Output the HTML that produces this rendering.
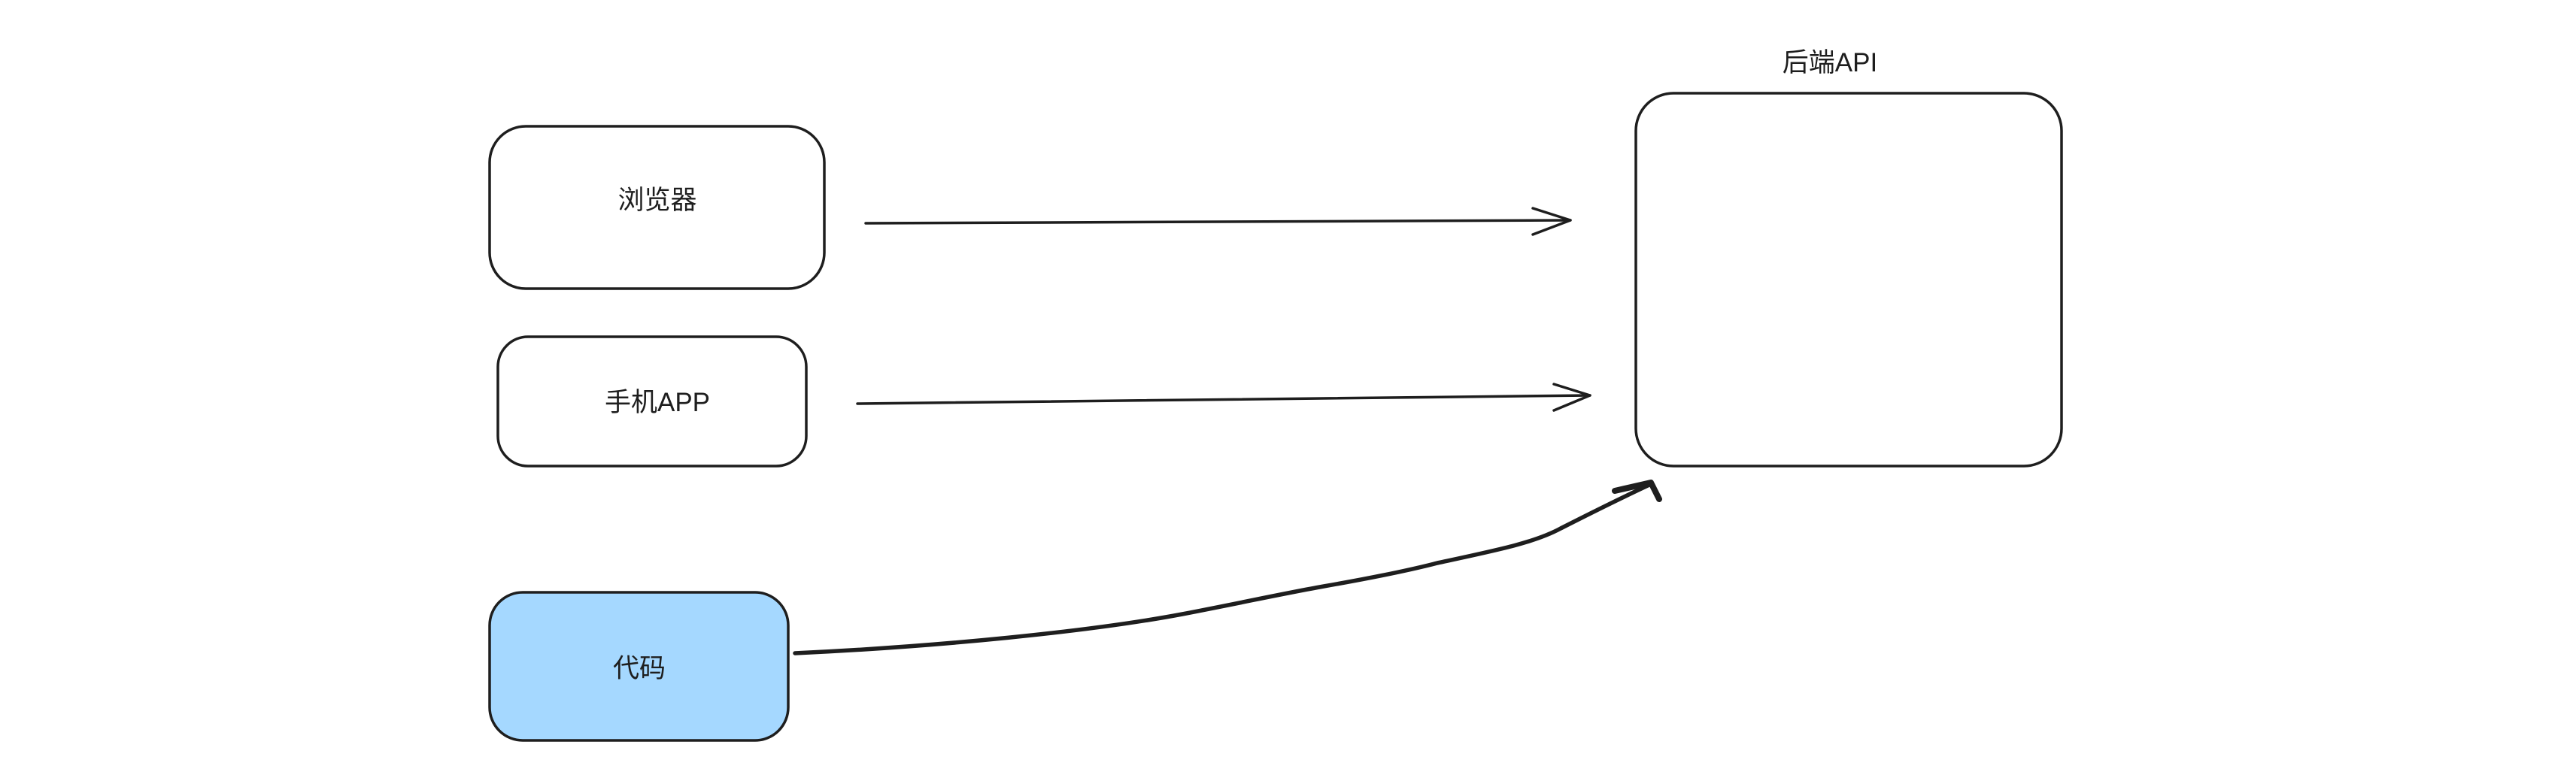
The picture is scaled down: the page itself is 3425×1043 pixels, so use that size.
<!DOCTYPE html>
<html><head><meta charset="utf-8"><style>
html,body{margin:0;padding:0;background:#fff;}
svg{display:block;}
text{font-family:"Liberation Sans","Noto Sans CJK SC",sans-serif;fill:#1e1e1e;}
</style></head><body>
<svg width="3425" height="1043" viewBox="0 0 3425 1043">
<g fill="none" stroke="#1e1e1e" stroke-width="3.5" stroke-linecap="round" stroke-linejoin="round">
  <rect x="651" y="168" width="445" height="216" rx="48"/>
  <rect x="662" y="448" width="410" height="172" rx="40"/>
  <rect x="651" y="788" width="397" height="197" rx="44" fill="#a5d8ff"/>
  <rect x="2175" y="124" width="566" height="496" rx="50"/>
  <g>
    <path d="M1151 297 L2088 293"/>
    <path d="M2038 277 L2088 293 L2038 312"/>
  </g>
  <g>
    <path d="M1140 537 L2114 526"/>
    <path d="M2066 511 L2114 526 L2066 546"/>
  </g>
  <g stroke-width="5.5">
    <path d="M1057 869 C1250 860 1450 840 1572 817 C1660 800 1704 790 1760 780 C1840 766 1880 757 1911 749 C1990 732 2040 722 2075 703 C2130 675 2165 658 2195 644"/>
    <path d="M2147 653 L2195 642 L2206 664" stroke-width="8"/>
  </g>
</g>
<text x="874" y="278" font-size="35" text-anchor="middle">浏览器</text>
<text x="874" y="547" font-size="35" text-anchor="middle">手机APP</text>
<text x="850" y="901" font-size="35" text-anchor="middle">代码</text>
<text x="2433" y="95" font-size="35" text-anchor="middle">后端API</text>
</svg>
</body></html>
